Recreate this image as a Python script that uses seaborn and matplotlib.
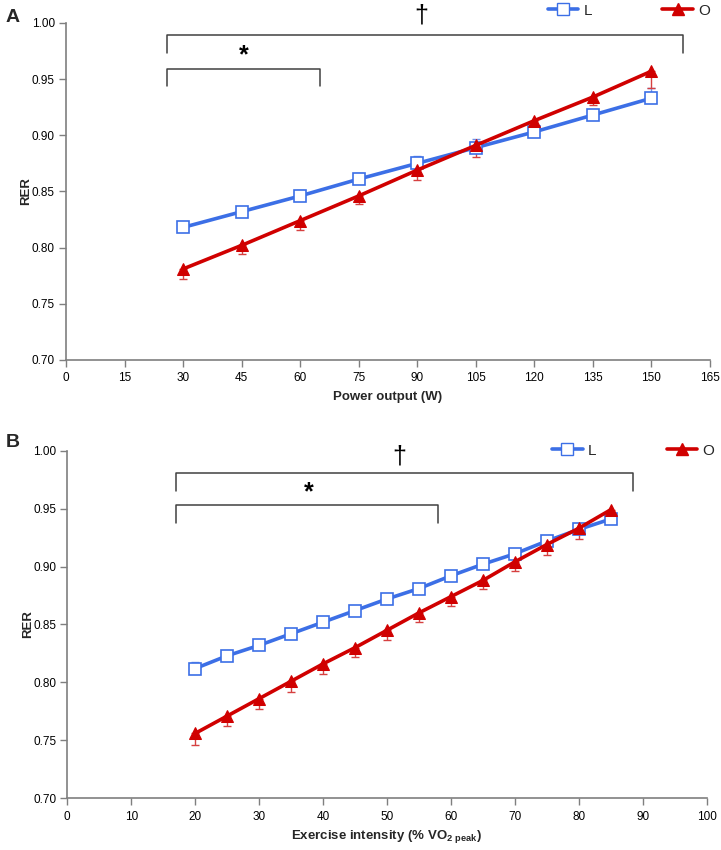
import numpy as np
import pandas as pd
import seaborn as sns
import matplotlib.pyplot as plt
from matplotlib.lines import Line2D

# Panel A: power output (W)
power = [30, 45, 60, 75, 90, 105, 120, 135, 150]
rer_l_a = [0.818, 0.832, 0.846, 0.861, 0.875, 0.889, 0.903, 0.918, 0.933]
err_l_a = [0.003, 0.003, 0.005, 0.005, 0.007, 0.008, 0.003, 0.004, 0.009]
rer_o_a = [0.781, 0.802, 0.824, 0.846, 0.869, 0.891, 0.913, 0.934, 0.957]
err_o_a = [0.009, 0.008, 0.008, 0.007, 0.009, 0.010, 0.004, 0.007, 0.015]

# Panel B: exercise intensity (% VO2 peak)
intensity = [20, 25, 30, 35, 40, 45, 50, 55, 60, 65, 70, 75, 80, 85]
rer_l_b = [0.812, 0.823, 0.832, 0.842, 0.852, 0.862, 0.872, 0.881, 0.892, 0.902, 0.911, 0.922, 0.932, 0.941]
err_l_b = [0.006, 0.004, 0.004, 0.004, 0.003, 0.003, 0.003, 0.003, 0.003, 0.003, 0.003, 0.003, 0.003, 0.003]
rer_o_b = [0.756, 0.771, 0.786, 0.801, 0.816, 0.830, 0.845, 0.860, 0.874, 0.888, 0.904, 0.919, 0.933, 0.949]
err_o_b = [0.010, 0.009, 0.009, 0.009, 0.009, 0.008, 0.008, 0.008, 0.008, 0.007, 0.008, 0.009, 0.009, 0.002]

BLUE = '#3c6fe6'
BLUE_ERR = '#6f93ec'
RED = '#d00000'
RED_ERR = '#d64040'
GRAY = '#7f7f7f'

sns.set_theme(style="white")
plt.rcParams['font.family'] = ['Liberation Sans', 'DejaVu Sans']
plt.rcParams['mathtext.fontset'] = 'custom'
plt.rcParams['mathtext.rm'] = 'Liberation Sans'
plt.rcParams['mathtext.bf'] = 'Liberation Sans:bold'

fig = plt.figure(figsize=(7.21, 8.5), dpi=100)
ax_a = fig.add_axes([0.0915, 0.5765, 0.893, 0.3965])
ax_b = fig.add_axes([0.0933, 0.0608, 0.8867, 0.409])


def draw_panel(ax, x, l_vals, l_err, o_vals, o_err, legend_anchor):
    df = pd.DataFrame({'x': x, 'L': l_vals, 'O': o_vals})
    zeros = np.zeros(len(x))
    ax.errorbar(x, l_vals, yerr=[zeros, l_err], fmt='none', ecolor=BLUE_ERR,
                elinewidth=1, capsize=3, capthick=1, zorder=2)
    ax.errorbar(x, o_vals, yerr=[o_err, zeros], fmt='none', ecolor=RED_ERR,
                elinewidth=1, capsize=3, capthick=1, zorder=2)
    sns.lineplot(data=df, x='x', y='L', ax=ax, color=BLUE, lw=2.6, marker='s',
                 markersize=8, markerfacecolor='white', markeredgecolor=BLUE,
                 markeredgewidth=1.2, zorder=3)
    sns.lineplot(data=df, x='x', y='O', ax=ax, color=RED, lw=2.6, marker='^',
                 markersize=9, markerfacecolor=RED, markeredgecolor=RED, zorder=4)
    ax.set_ylim(0.70, 1.00)
    ax.set_yticks(np.arange(0.70, 1.001, 0.05))
    ax.set_yticklabels([f'{v:.2f}' for v in np.arange(0.70, 1.001, 0.05)])
    ax.set_ylabel('RER', fontsize=9.5, fontweight='bold')
    ax.yaxis.set_label_coords(-0.052, 0.5)
    for side in ['top', 'right']:
        ax.spines[side].set_visible(False)
    for side in ['left', 'bottom']:
        ax.spines[side].set_color(GRAY)
        ax.spines[side].set_linewidth(1.2)
    ax.tick_params(axis='both', which='both', direction='out', length=5, width=1,
                   color=GRAY, labelsize=8.5, labelcolor='black', left=True, bottom=True)
    ax.tick_params(axis='x', pad=4)
    ax.tick_params(axis='y', pad=3)
    ax.grid(False)
    handles = [
        Line2D([], [], color=BLUE, lw=2.6, marker='s', markersize=8,
               markerfacecolor='white', markeredgecolor=BLUE),
        Line2D([], [], color=RED, lw=2.6, marker='^', markersize=9,
               markerfacecolor=RED, markeredgecolor=RED),
    ]
    ax.legend(handles, ['L', 'O'], ncol=2, loc='center right', bbox_to_anchor=legend_anchor,
              frameon=False, fontsize=11, handlelength=2.0, handletextpad=0.35,
              columnspacing=4.6, borderaxespad=0)


def bracket(ax, x0, x1, y, drop, label, label_y, label_x=None, fs=16, weight='normal'):
    ax.plot([x0, x0, x1, x1], [y - drop, y, y, y - drop], color='#404040', lw=1.1,
            clip_on=False)
    if label_x is None:
        label_x = (x0 + x1) / 2
    ax.text(label_x, label_y, label, ha='center', va='center', fontsize=fs,
            fontweight=weight, color='black', clip_on=False)


draw_panel(ax_a, power, rer_l_a, err_l_a, rer_o_a, err_o_a, (1.01, 1.036))
ax_a.set_xlim(0, 165)
ax_a.set_xticks(np.arange(0, 166, 15))
ax_a.set_xlabel('Power output (W)', fontsize=9.5, fontweight='bold', labelpad=5)
bracket(ax_a, 26, 158, 0.989, 0.016, '\u2020', 1.007, label_x=91, fs=18)
bracket(ax_a, 26, 65, 0.959, 0.015, '*', 0.971, label_x=45.5, fs=18, weight='bold')
fig.text(0.008, 0.980, 'A', fontsize=14, fontweight='bold', va='center')

draw_panel(ax_b, intensity, rer_l_b, err_l_b, rer_o_b, err_o_b, (1.022, 1.0))
ax_b.set_xlim(0, 100)
ax_b.set_xticks(np.arange(0, 101, 10))
ax_b.set_xlabel('Exercise intensity (% VO$_{\\mathbf{2\\ peak}}$)', fontsize=9.5,
                fontweight='bold', labelpad=4)
bracket(ax_b, 17, 88.5, 0.981, 0.016, '\u2020', 0.995, label_x=52, fs=18)
bracket(ax_b, 17, 58, 0.953, 0.015, '*', 0.964, label_x=37.8, fs=18, weight='bold')
fig.text(0.008, 0.479, 'B', fontsize=14, fontweight='bold', va='center')

plt.savefig('out.png', dpi=100)
plt.close()
